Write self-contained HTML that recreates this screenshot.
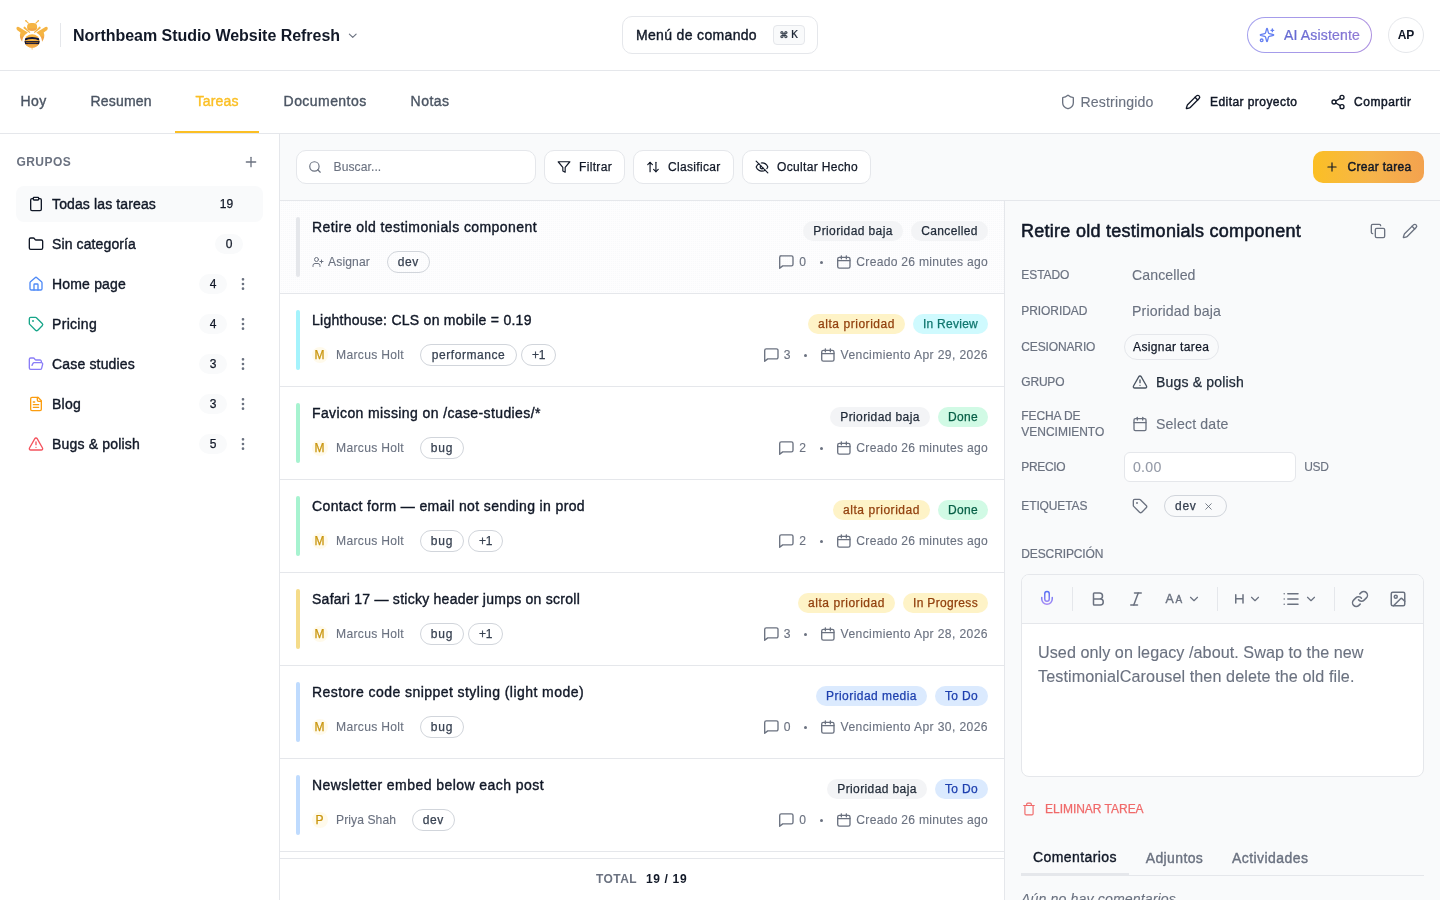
<!DOCTYPE html>
<html lang="es">
<head>
<meta charset="utf-8">
<title>Northbeam Studio Website Refresh</title>
<style>
*{box-sizing:border-box;margin:0;padding:0}
html,body{width:1440px;height:900px;overflow:hidden;background:#fff}
body{font-family:"Liberation Sans",sans-serif;position:relative;color:#111827}
.bx,.t,.ic,.lg{position:absolute;display:block}
.t{white-space:pre;font-weight:400;line-height:30px;height:30px}
.m{-webkit-text-stroke:.4px}
.b{font-weight:700}
.ic{fill:none;stroke:currentColor;stroke-linecap:round;stroke-linejoin:round;overflow:visible}
ul{list-style:none}
button,kbd{font:inherit;border:0;background:none;padding:0}
</style>
</head>
<body>
<header>
<div class="bx" style="left:0px;top:0px;width:1440px;height:70px;background:#fff"></div>
<div class="bx" style="left:0px;top:70px;width:1440px;height:1px;background:#e5e7eb"></div>
<svg class="lg" style="left:14px;top:18px" width="36" height="34" viewBox="14 18 36 34">
<defs><clipPath id="bc"><ellipse cx="32.100" cy="41" rx="7.600" ry="6.800"/></clipPath>
<linearGradient id="wg" x1="0" y1="27" x2="0" y2="41.500" gradientUnits="userSpaceOnUse"><stop offset=".6" stop-color="#f5b443"/><stop offset=".68" stop-color="#f1a548"/></linearGradient></defs>
<g id="bw">
<path d="M28.300 23.200 26 20.900" stroke="#f5b443" stroke-width="1.100" stroke-linecap="round"/>
<circle cx="25.800" cy="20.700" r=".75" fill="#f5b443"/>
<path d="M24.700 26.600 30.300 32.200 29.600 33.100 23.500 28.200Q23.300 26.900 24.700 26.600Z" fill="#f5b443"/>
<path d="M16.700 27.300Q17.500 26.400 18.800 27L27.900 32.600Q24.200 35 23.100 37.600 22.400 39.500 22.100 41.700 20.500 39.500 20.100 37.600 19.600 34.500 20.500 32.600L17 30Q16 28.500 16.700 27.300Z" fill="url(#wg)"/>
</g>
<use href="#bw" transform="translate(64.200 0) scale(-1 1)"/>
<g fill="#f5b443">
<rect x="27.100" y="22.900" width="10" height="7.900" rx="4" ry="3.500"/>
<ellipse cx="32.100" cy="41" rx="7.600" ry="6.800"/>
<path d="M31.200 48.500h1.800l-.9 1.300z"/>
</g>
<path d="M27.500 28.200Q32.100 28.800 36.700 28.200Q35.500 30.800 32.100 30.800Q28.700 30.800 27.500 28.200Z" fill="#f1a548"/>
<g clip-path="url(#bc)">
<path d="M24.700 39.500Q32.100 36.500 39.500 39.500" stroke="#10163a" stroke-width="1.900" fill="none"/>
<rect x="24" y="41.100" width="16.200" height="3.300" fill="#10163a"/>
<rect x="26" y="42.250" width="12.200" height=".7" fill="#c47a14"/>
<rect x="27.800" y="43.900" width="8.600" height=".6" fill="#f5a742"/>
<rect x="24" y="44.400" width="16.200" height="4" fill="#f3a945"/>
</g>
</svg>
<div class="bx" style="left:60px;top:23px;width:1px;height:24px;background:#e5e7eb"></div>
<h1 class="t b" style="left:73.00px;top:21px;font-size:16px;color:#111827;letter-spacing:-0.037px;">Northbeam Studio Website Refresh</h1>
<svg class="ic" style="left:346.25px;top:29.25px;color:#6b7280;" width="13.5" height="13.5" viewBox="0 0 24 24" stroke-width="2"><path d="m6 9 6 6 6-6"/></svg>
<button class="bx" style="left:622px;top:16px;width:196px;height:38px;border:1px solid #e5e7eb;border-radius:10px;background:#fff"></button>
<span class="t m" style="left:636.00px;top:20px;font-size:14px;color:#111827;letter-spacing:0.335px;-webkit-text-stroke:0.38px;">Menú de comando</span>
<kbd class="bx" style="left:773px;top:25px;width:32px;height:20px;border:1px solid #e5e7eb;border-radius:4px;background:#f9fafb"></kbd>
<span class="t" style="left:779.60px;top:20px;font-size:8.8px;color:#1f2937;font-family:'DejaVu Sans',sans-serif;-webkit-text-stroke:0.3px;">⌘</span>
<span class="t" style="left:791.30px;top:20px;font-size:11px;color:#1f2937;font-family:'DejaVu Sans Mono',monospace;-webkit-text-stroke:0.2px;">K</span>
<button class="bx" style="left:1247px;top:17px;width:125px;height:36px;border:1px solid transparent;border-radius:18px;background:linear-gradient(#fff,#fff) padding-box,linear-gradient(90deg,#a3a0ee,#ac90e0) border-box"></button>
<svg class="ic" style="left:1259px;top:27px;color:#6680f2;" width="16" height="16" viewBox="0 0 24 24" stroke-width="2"><path d="M9.937 15.500A2 2 0 0 0 8.500 14.063l-6.135-1.582a.500.500 0 0 1 0-.962L8.500 9.936A2 2 0 0 0 9.937 8.500l1.582-6.135a.500.500 0 0 1 .963 0L14.063 8.500A2 2 0 0 0 15.500 9.937l6.135 1.581a.500.500 0 0 1 0 .964L15.500 14.063a2 2 0 0 0-1.437 1.437l-1.582 6.135a.500.500 0 0 1-.963 0z"/><path d="M20 3v4"/><path d="M22 5h-4"/><circle cx="4" cy="20" r="2"/></svg>
<span class="t m" style="left:1284.00px;top:20px;font-size:14px;color:#6e6bd8;letter-spacing:0.172px;-webkit-text-stroke:0.38px;background:linear-gradient(90deg,#5f68d3,#9079d4);-webkit-background-clip:text;background-clip:text;color:transparent;-webkit-text-stroke:.15px #776fd3;">AI Asistente</span>
<div class="bx" style="left:1388px;top:17px;width:36px;height:36px;border:1px solid #e5e7eb;border-radius:50%;background:#fff"></div>
<span class="t b" style="left:1397.80px;top:20px;font-size:12px;color:#111827;letter-spacing:-0.336px;">AP</span>
</header>
<nav>
<div class="bx" style="left:0px;top:71px;width:1440px;height:62px;background:#fff"></div>
<div class="bx" style="left:0px;top:133px;width:1440px;height:1px;background:#e5e7eb"></div>
<a class="t m" style="left:20.60px;top:86px;font-size:14px;color:#4b5563;letter-spacing:0.365px;-webkit-text-stroke:0.38px;">Hoy</a>
<a class="t m" style="left:90.60px;top:86px;font-size:14px;color:#4b5563;letter-spacing:0.154px;-webkit-text-stroke:0.38px;">Resumen</a>
<a class="t m" style="left:195.60px;top:86px;font-size:14px;color:#fbbf24;letter-spacing:0.161px;-webkit-text-stroke:0.38px;">Tareas</a>
<a class="t m" style="left:283.60px;top:86px;font-size:14px;color:#4b5563;letter-spacing:0.441px;-webkit-text-stroke:0.38px;">Documentos</a>
<a class="t m" style="left:410.60px;top:86px;font-size:14px;color:#4b5563;letter-spacing:0.484px;-webkit-text-stroke:0.38px;">Notas</a>
<div class="bx" style="left:175px;top:131px;width:84px;height:2px;background:#fbbf24"></div>
<svg class="ic" style="left:1060px;top:94px;color:#6b7280;" width="16" height="16" viewBox="0 0 24 24" stroke-width="2"><path d="M20 13c0 5-3.500 7.500-7.660 8.950a1 1 0 0 1-.670-.010C7.500 20.500 4 18 4 13V6a1 1 0 0 1 1-1c2 0 4.500-1.200 6.240-2.720a1.170 1.170 0 0 1 1.520 0C14.510 3.810 17 5 19 5a1 1 0 0 1 1 1z"/></svg>
<span class="t" style="left:1080.50px;top:87px;font-size:14.14px;color:#6b7280;letter-spacing:0.141px;-webkit-text-stroke:0.12px;">Restringido</span>
<svg class="ic" style="left:1185px;top:94px;color:#111827;" width="16" height="16" viewBox="0 0 24 24" stroke-width="2"><path d="M21.174 6.812a1 1 0 0 0-3.986-3.987L3.842 16.174a2 2 0 0 0-.500.830l-1.321 4.352a.500.500 0 0 0 .623.622l4.353-1.320a2 2 0 0 0 .830-.497z"/><path d="m15 5 4 4"/></svg>
<span class="t m" style="left:1210.00px;top:87px;font-size:12px;color:#111827;letter-spacing:0.439px;-webkit-text-stroke:0.45px;">Editar proyecto</span>
<svg class="ic" style="left:1330px;top:94px;color:#111827;" width="16" height="16" viewBox="0 0 24 24" stroke-width="2"><circle cx="18" cy="5" r="3"/><circle cx="6" cy="12" r="3"/><circle cx="18" cy="19" r="3"/><line x1="8.59" x2="15.42" y1="13.51" y2="17.49"/><line x1="15.41" x2="8.59" y1="6.51" y2="10.49"/></svg>
<span class="t m" style="left:1354.00px;top:87px;font-size:12px;color:#111827;letter-spacing:0.535px;-webkit-text-stroke:0.45px;">Compartir</span>
</nav>
<aside>
<div class="bx" style="left:0px;top:134px;width:279px;height:766px;background:#fff"></div>
<div class="bx" style="left:279px;top:134px;width:1px;height:766px;background:#e5e7eb"></div>
<h2 class="t b" style="left:16.40px;top:147px;font-size:12px;color:#6b7280;letter-spacing:0.464px;">GRUPOS</h2>
<svg class="ic" style="left:243px;top:154px;color:#6b7280;" width="16" height="16" viewBox="0 0 24 24" stroke-width="2"><path d="M5 12h14"/><path d="M12 5v14"/></svg>
<div class="bx" style="left:16px;top:186px;width:247px;height:36px;background:#f9fafb;border-radius:8px"></div>
<ul>
<li>
<svg class="ic" style="left:28px;top:196px;color:#111827;" width="16" height="16" viewBox="0 0 24 24" stroke-width="2"><rect width="8" height="4" x="8" y="2" rx="1" ry="1"/><path d="M16 4h2a2 2 0 0 1 2 2v14a2 2 0 0 1-2 2H6a2 2 0 0 1-2-2V6a2 2 0 0 1 2-2h2"/></svg>
<span class="t m" style="left:52.00px;top:189px;font-size:14px;color:#111827;letter-spacing:0.128px;-webkit-text-stroke:0.38px;">Todas las tareas</span>
<div class="bx" style="left:210px;top:194px;width:33px;height:20px;background:#f9fafb;border-radius:10px"></div>
<span class="t m" style="left:219.82px;top:189px;font-size:12px;color:#111827;-webkit-text-stroke:0.25px;">19</span>
</li>
<li>
<svg class="ic" style="left:28px;top:236px;color:#111827;" width="16" height="16" viewBox="0 0 24 24" stroke-width="2"><path d="M20 20a2 2 0 0 0 2-2V8a2 2 0 0 0-2-2h-7.900a2 2 0 0 1-1.690-.900L9.600 3.900A2 2 0 0 0 7.930 3H4a2 2 0 0 0-2 2v13a2 2 0 0 0 2 2Z"/></svg>
<span class="t m" style="left:52.00px;top:229px;font-size:14px;color:#111827;letter-spacing:0.115px;-webkit-text-stroke:0.38px;">Sin categoría</span>
<div class="bx" style="left:215px;top:234px;width:28px;height:20px;background:#f9fafb;border-radius:10px"></div>
<span class="t m" style="left:225.66px;top:229px;font-size:12px;color:#111827;-webkit-text-stroke:0.25px;">0</span>
</li>
<li>
<svg class="ic" style="left:28px;top:276px;color:#4f8af7;" width="16" height="16" viewBox="0 0 24 24" stroke-width="2"><path d="M15 21v-8a1 1 0 0 0-1-1h-4a1 1 0 0 0-1 1v8"/><path d="M3 10a2 2 0 0 1 .709-1.528l7-5.999a2 2 0 0 1 2.582 0l7 5.999A2 2 0 0 1 21 10v9a2 2 0 0 1-2 2H5a2 2 0 0 1-2-2z"/></svg>
<span class="t m" style="left:52.00px;top:269px;font-size:14px;color:#111827;letter-spacing:0.179px;-webkit-text-stroke:0.38px;">Home page</span>
<div class="bx" style="left:199px;top:274px;width:28px;height:20px;background:#f9fafb;border-radius:10px"></div>
<span class="t m" style="left:209.66px;top:269px;font-size:12px;color:#111827;-webkit-text-stroke:0.25px;">4</span>
<svg class="ic" style="left:235px;top:276px;color:#6b7280;" width="16" height="16" viewBox="0 0 24 24" stroke-width="2"><circle cx="12" cy="12" r="1"/><circle cx="12" cy="5" r="1"/><circle cx="12" cy="19" r="1"/></svg>
</li>
<li>
<svg class="ic" style="left:28px;top:316px;color:#17a589;" width="16" height="16" viewBox="0 0 24 24" stroke-width="2"><path d="M12.586 2.586A2 2 0 0 0 11.172 2H4a2 2 0 0 0-2 2v7.172a2 2 0 0 0 .586 1.414l8.704 8.704a2.426 2.426 0 0 0 3.420 0l6.580-6.580a2.426 2.426 0 0 0 0-3.420z"/><circle cx="7.5" cy="7.5" r=".5" fill="currentColor"/></svg>
<span class="t m" style="left:52.00px;top:309px;font-size:14px;color:#111827;letter-spacing:0.315px;-webkit-text-stroke:0.38px;">Pricing</span>
<div class="bx" style="left:199px;top:314px;width:28px;height:20px;background:#f9fafb;border-radius:10px"></div>
<span class="t m" style="left:209.66px;top:309px;font-size:12px;color:#111827;-webkit-text-stroke:0.25px;">4</span>
<svg class="ic" style="left:235px;top:316px;color:#6b7280;" width="16" height="16" viewBox="0 0 24 24" stroke-width="2"><circle cx="12" cy="12" r="1"/><circle cx="12" cy="5" r="1"/><circle cx="12" cy="19" r="1"/></svg>
</li>
<li>
<svg class="ic" style="left:28px;top:356px;color:#8a7df7;" width="16" height="16" viewBox="0 0 24 24" stroke-width="2"><path d="m6 14 1.500-2.900A2 2 0 0 1 9.240 10H20a2 2 0 0 1 1.940 2.500l-1.540 6a2 2 0 0 1-1.950 1.500H4a2 2 0 0 1-2-2V5a2 2 0 0 1 2-2h3.900a2 2 0 0 1 1.690.900l.810 1.200a2 2 0 0 0 1.670.900H18a2 2 0 0 1 2 2v2"/></svg>
<span class="t m" style="left:52.00px;top:349px;font-size:14px;color:#111827;letter-spacing:0.172px;-webkit-text-stroke:0.38px;">Case studies</span>
<div class="bx" style="left:199px;top:354px;width:28px;height:20px;background:#f9fafb;border-radius:10px"></div>
<span class="t m" style="left:209.66px;top:349px;font-size:12px;color:#111827;-webkit-text-stroke:0.25px;">3</span>
<svg class="ic" style="left:235px;top:356px;color:#6b7280;" width="16" height="16" viewBox="0 0 24 24" stroke-width="2"><circle cx="12" cy="12" r="1"/><circle cx="12" cy="5" r="1"/><circle cx="12" cy="19" r="1"/></svg>
</li>
<li>
<svg class="ic" style="left:28px;top:396px;color:#fb9d10;" width="16" height="16" viewBox="0 0 24 24" stroke-width="2"><path d="M15 2H6a2 2 0 0 0-2 2v16a2 2 0 0 0 2 2h12a2 2 0 0 0 2-2V7Z"/><path d="M14 2v4a2 2 0 0 0 2 2h4"/><path d="M10 9H8"/><path d="M16 13H8"/><path d="M16 17H8"/></svg>
<span class="t m" style="left:52.00px;top:389px;font-size:14px;color:#111827;letter-spacing:0.242px;-webkit-text-stroke:0.38px;">Blog</span>
<div class="bx" style="left:199px;top:394px;width:28px;height:20px;background:#f9fafb;border-radius:10px"></div>
<span class="t m" style="left:209.66px;top:389px;font-size:12px;color:#111827;-webkit-text-stroke:0.25px;">3</span>
<svg class="ic" style="left:235px;top:396px;color:#6b7280;" width="16" height="16" viewBox="0 0 24 24" stroke-width="2"><circle cx="12" cy="12" r="1"/><circle cx="12" cy="5" r="1"/><circle cx="12" cy="19" r="1"/></svg>
</li>
<li>
<svg class="ic" style="left:28px;top:436px;color:#f4535e;" width="16" height="16" viewBox="0 0 24 24" stroke-width="2"><path d="m21.730 18-8-14a2 2 0 0 0-3.480 0l-8 14A2 2 0 0 0 4 21h16a2 2 0 0 0 1.730-3"/><path d="M12 9v4"/><path d="M12 17h.01"/></svg>
<span class="t m" style="left:52.00px;top:429px;font-size:14px;color:#111827;letter-spacing:0.184px;-webkit-text-stroke:0.38px;">Bugs &amp; polish</span>
<div class="bx" style="left:199px;top:434px;width:28px;height:20px;background:#f9fafb;border-radius:10px"></div>
<span class="t m" style="left:209.66px;top:429px;font-size:12px;color:#111827;-webkit-text-stroke:0.25px;">5</span>
<svg class="ic" style="left:235px;top:436px;color:#6b7280;" width="16" height="16" viewBox="0 0 24 24" stroke-width="2"><circle cx="12" cy="12" r="1"/><circle cx="12" cy="5" r="1"/><circle cx="12" cy="19" r="1"/></svg>
</li>
</ul>
</aside>
<main>
<div class="bx" style="left:280px;top:134px;width:1160px;height:766px;background:#f9fafb"></div>
<div class="bx" style="left:296px;top:150px;width:240px;height:34px;border:1px solid #e5e7eb;border-radius:10px;background:#fff"></div>
<svg class="ic" style="left:308px;top:160px;color:#6b7280;" width="14" height="14" viewBox="0 0 24 24" stroke-width="2"><circle cx="11" cy="11" r="8"/><path d="m21 21-4.3-4.3"/></svg>
<span class="t" style="left:333.50px;top:152px;font-size:12.12px;color:#6b7280;letter-spacing:0.075px;-webkit-text-stroke:0.12px;">Buscar...</span>
<button class="bx" style="left:544px;top:150px;width:81px;height:34px;border:1px solid #e5e7eb;border-radius:10px;background:#fff"></button>
<svg class="ic" style="left:557px;top:160px;color:#111827;" width="14" height="14" viewBox="0 0 24 24" stroke-width="2"><polygon points="22 3 2 3 10 12.46 10 19 14 21 14 12.46 22 3"/></svg>
<span class="t m" style="left:579.00px;top:152px;font-size:12px;color:#111827;letter-spacing:0.333px;-webkit-text-stroke:0.25px;">Filtrar</span>
<button class="bx" style="left:633px;top:150px;width:101px;height:34px;border:1px solid #e5e7eb;border-radius:10px;background:#fff"></button>
<svg class="ic" style="left:646px;top:160px;color:#111827;" width="14" height="14" viewBox="0 0 24 24" stroke-width="2"><path d="m21 16-4 4-4-4"/><path d="M17 20V4"/><path d="m3 8 4-4 4 4"/><path d="M7 4v16"/></svg>
<span class="t m" style="left:668.00px;top:152px;font-size:12px;color:#111827;letter-spacing:0.316px;-webkit-text-stroke:0.25px;">Clasificar</span>
<button class="bx" style="left:742px;top:150px;width:129px;height:34px;border:1px solid #e5e7eb;border-radius:10px;background:#fff"></button>
<svg class="ic" style="left:755px;top:160px;color:#111827;" width="14" height="14" viewBox="0 0 24 24" stroke-width="2"><path d="M9.88 9.88a3 3 0 1 0 4.24 4.24"/><path d="M10.73 5.08A10.43 10.43 0 0 1 12 5c7 0 10 7 10 7a13.16 13.16 0 0 1-1.67 2.68"/><path d="M6.61 6.61A13.526 13.526 0 0 0 2 12s3 7 10 7a9.74 9.74 0 0 0 5.39-1.61"/><line x1="2" x2="22" y1="2" y2="22"/></svg>
<span class="t m" style="left:777.00px;top:152px;font-size:12px;color:#111827;letter-spacing:0.331px;-webkit-text-stroke:0.25px;">Ocultar Hecho</span>
<button class="bx" style="left:1313px;top:151px;width:111px;height:32px;border-radius:10px;background:linear-gradient(90deg,#fbbf24,#f6b54a 50%,#f3a24f)"></button>
<svg class="ic" style="left:1325px;top:160px;color:#111827;" width="14" height="14" viewBox="0 0 24 24" stroke-width="2"><path d="M5 12h14"/><path d="M12 5v14"/></svg>
<span class="t m" style="left:1347.50px;top:152px;font-size:12px;color:#111827;letter-spacing:0.300px;-webkit-text-stroke:0.45px;">Crear tarea</span>
<div class="bx" style="left:280px;top:200px;width:724px;height:1px;background:#e5e7eb"></div>
<div class="bx" style="left:280px;top:201px;width:724px;height:699px;background:#fff"></div>
<div class="bx" style="left:1004px;top:200px;width:1px;height:700px;background:#e5e7eb"></div>
<div class="bx" style="left:280px;top:201px;width:724px;height:92px;background:#fdfdfe radial-gradient(circle at .5px .5px,#f8f9fb .6px,rgba(248,249,251,0) .7px) 1px 0/2px 2px"></div>
<ul>
<li>
<div class="bx" style="left:280px;top:293px;width:724px;height:1px;background:#e5e7eb"></div>
<div class="bx" style="left:296px;top:217px;width:4px;height:60px;background:#e5e7eb;border-radius:2px"></div>
<h3 class="t m" style="left:312.00px;top:212px;font-size:14px;color:#111827;letter-spacing:0.428px;-webkit-text-stroke:0.38px;">Retire old testimonials component</h3>
<svg class="ic" style="left:312px;top:256px;color:#6b7280;" width="12" height="12" viewBox="0 0 24 24" stroke-width="2"><path d="M16 21v-2a4 4 0 0 0-4-4H6a4 4 0 0 0-4 4v2"/><circle cx="9" cy="7" r="4"/><line x1="19" x2="19" y1="8" y2="14"/><line x1="22" x2="16" y1="11" y2="11"/></svg>
<span class="t" style="left:328.00px;top:247px;font-size:12.12px;color:#6b7280;letter-spacing:0.134px;-webkit-text-stroke:0.12px;">Asignar</span>
<div class="bx" style="left:387px;top:251px;width:42.6px;height:22px;border:1px solid #d1d5db;border-radius:11px"></div>
<span class="t m" style="left:397.80px;top:247px;font-size:12px;color:#374151;letter-spacing:0.547px;-webkit-text-stroke:0.25px;">dev</span>
<div class="bx" style="left:911px;top:221px;width:77px;height:20px;background:#f3f4f6;border-radius:10px"></div>
<span class="t m" style="left:921.25px;top:216px;font-size:12px;color:#1f2937;letter-spacing:0.347px;-webkit-text-stroke:0.25px;">Cancelled</span>
<div class="bx" style="left:803px;top:221px;width:100px;height:20px;background:#f3f4f6;border-radius:10px"></div>
<span class="t m" style="left:813.25px;top:216px;font-size:12px;color:#1f2937;letter-spacing:0.390px;-webkit-text-stroke:0.25px;">Prioridad baja</span>
<span class="t" style="left:856.30px;top:247px;font-size:12.12px;color:#6b7280;letter-spacing:0.277px;-webkit-text-stroke:0.12px;">Creado 26 minutes ago</span>
<svg class="ic" style="left:835.9px;top:253.15px;color:#6b7280;" width="18" height="18" viewBox="835.9 253.15 18 18" stroke-width="1.35"><rect x="837.60" y="257.45" width="12.30" height="10.80" rx="1.7"/><path d="M837.60 260.75H849.90M841.25 255.95v3M846.25 255.95v3"/></svg>
<div class="bx" style="left:819.5px;top:260.7px;width:3px;height:3px;background:#6b7280;border-radius:50%"></div>
<span class="t" style="left:799.33px;top:247px;font-size:12.12px;color:#6b7280;-webkit-text-stroke:0.12px;">0</span>
<svg class="ic" style="left:778.3px;top:253.15px;color:#6b7280;" width="18" height="18" viewBox="778.3 253.15 18 18" stroke-width="1.35"><path d="M781.60 255.95H791.70a1.6 1.6 0 0 1 1.6 1.6V264.45a1.6 1.6 0 0 1 -1.6 1.6H783.00L780.00 268.45V257.55a1.6 1.6 0 0 1 1.6 -1.6Z"/></svg>
</li>
<li>
<div class="bx" style="left:280px;top:386px;width:724px;height:1px;background:#e5e7eb"></div>
<div class="bx" style="left:296px;top:310px;width:4px;height:60px;background:#a5f3fc;border-radius:2px"></div>
<h3 class="t m" style="left:312.00px;top:305px;font-size:14px;color:#111827;letter-spacing:0.262px;-webkit-text-stroke:0.38px;">Lighthouse: CLS on mobile = 0.19</h3>
<div class="bx" style="left:312px;top:347px;width:16px;height:16px;background:#fffaeb;border-radius:50%"></div>
<span class="t m" style="left:314.60px;top:340px;font-size:12px;color:#c9950c;-webkit-text-stroke:0.25px;">M</span>
<span class="t" style="left:336.00px;top:340px;font-size:12.12px;color:#6b7280;letter-spacing:0.308px;-webkit-text-stroke:0.12px;">Marcus Holt</span>
<div class="bx" style="left:420px;top:344px;width:97px;height:22px;border:1px solid #d1d5db;border-radius:11px"></div>
<span class="t m" style="left:431.75px;top:340px;font-size:12px;color:#374151;letter-spacing:0.557px;-webkit-text-stroke:0.25px;">performance</span>
<div class="bx" style="left:521px;top:344px;width:35px;height:22px;border:1px solid #d1d5db;border-radius:11px"></div>
<span class="t m" style="left:531.90px;top:340px;font-size:12px;color:#374151;letter-spacing:-0.244px;-webkit-text-stroke:0.25px;">+1</span>
<div class="bx" style="left:913px;top:314px;width:75px;height:20px;background:#cffafe;border-radius:10px"></div>
<span class="t m" style="left:923.00px;top:309px;font-size:12px;color:#0f766e;letter-spacing:0.257px;-webkit-text-stroke:0.25px;">In Review</span>
<div class="bx" style="left:808px;top:314px;width:97px;height:20px;background:#fef3c7;border-radius:10px"></div>
<span class="t m" style="left:818.00px;top:309px;font-size:12px;color:#92400e;letter-spacing:0.545px;-webkit-text-stroke:0.25px;">alta prioridad</span>
<span class="t" style="left:840.60px;top:340px;font-size:12.12px;color:#6b7280;letter-spacing:0.391px;-webkit-text-stroke:0.12px;">Vencimiento Apr 29, 2026</span>
<svg class="ic" style="left:820.2px;top:346.15px;color:#6b7280;" width="18" height="18" viewBox="820.2 346.15 18 18" stroke-width="1.35"><rect x="821.90" y="350.45" width="12.30" height="10.80" rx="1.7"/><path d="M821.90 353.75H834.20M825.55 348.95v3M830.55 348.95v3"/></svg>
<div class="bx" style="left:803.8px;top:353.7px;width:3px;height:3px;background:#6b7280;border-radius:50%"></div>
<span class="t" style="left:783.63px;top:340px;font-size:12.12px;color:#6b7280;-webkit-text-stroke:0.12px;">3</span>
<svg class="ic" style="left:762.6px;top:346.15px;color:#6b7280;" width="18" height="18" viewBox="762.6 346.15 18 18" stroke-width="1.35"><path d="M765.90 348.95H776.00a1.6 1.6 0 0 1 1.6 1.6V357.45a1.6 1.6 0 0 1 -1.6 1.6H767.30L764.30 361.45V350.55a1.6 1.6 0 0 1 1.6 -1.6Z"/></svg>
</li>
<li>
<div class="bx" style="left:280px;top:479px;width:724px;height:1px;background:#e5e7eb"></div>
<div class="bx" style="left:296px;top:403px;width:4px;height:60px;background:#a7f3d0;border-radius:2px"></div>
<h3 class="t m" style="left:312.00px;top:398px;font-size:14px;color:#111827;letter-spacing:0.390px;-webkit-text-stroke:0.38px;">Favicon missing on /case-studies/*</h3>
<div class="bx" style="left:312px;top:440px;width:16px;height:16px;background:#fffaeb;border-radius:50%"></div>
<span class="t m" style="left:314.60px;top:433px;font-size:12px;color:#c9950c;-webkit-text-stroke:0.25px;">M</span>
<span class="t" style="left:336.00px;top:433px;font-size:12.12px;color:#6b7280;letter-spacing:0.308px;-webkit-text-stroke:0.12px;">Marcus Holt</span>
<div class="bx" style="left:420px;top:437px;width:44px;height:22px;border:1px solid #d1d5db;border-radius:11px"></div>
<span class="t m" style="left:430.85px;top:433px;font-size:12px;color:#374151;letter-spacing:0.756px;-webkit-text-stroke:0.25px;">bug</span>
<div class="bx" style="left:938px;top:407px;width:50px;height:20px;background:#d1fae5;border-radius:10px"></div>
<span class="t m" style="left:948.00px;top:402px;font-size:12px;color:#065f46;letter-spacing:0.328px;-webkit-text-stroke:0.25px;">Done</span>
<div class="bx" style="left:830px;top:407px;width:100px;height:20px;background:#f3f4f6;border-radius:10px"></div>
<span class="t m" style="left:840.25px;top:402px;font-size:12px;color:#1f2937;letter-spacing:0.390px;-webkit-text-stroke:0.25px;">Prioridad baja</span>
<span class="t" style="left:856.30px;top:433px;font-size:12.12px;color:#6b7280;letter-spacing:0.277px;-webkit-text-stroke:0.12px;">Creado 26 minutes ago</span>
<svg class="ic" style="left:835.9px;top:439.15px;color:#6b7280;" width="18" height="18" viewBox="835.9 439.15 18 18" stroke-width="1.35"><rect x="837.60" y="443.45" width="12.30" height="10.80" rx="1.7"/><path d="M837.60 446.75H849.90M841.25 441.95v3M846.25 441.95v3"/></svg>
<div class="bx" style="left:819.5px;top:446.7px;width:3px;height:3px;background:#6b7280;border-radius:50%"></div>
<span class="t" style="left:799.33px;top:433px;font-size:12.12px;color:#6b7280;-webkit-text-stroke:0.12px;">2</span>
<svg class="ic" style="left:778.3px;top:439.15px;color:#6b7280;" width="18" height="18" viewBox="778.3 439.15 18 18" stroke-width="1.35"><path d="M781.60 441.95H791.70a1.6 1.6 0 0 1 1.6 1.6V450.45a1.6 1.6 0 0 1 -1.6 1.6H783.00L780.00 454.45V443.55a1.6 1.6 0 0 1 1.6 -1.6Z"/></svg>
</li>
<li>
<div class="bx" style="left:280px;top:572px;width:724px;height:1px;background:#e5e7eb"></div>
<div class="bx" style="left:296px;top:496px;width:4px;height:60px;background:#a7f3d0;border-radius:2px"></div>
<h3 class="t m" style="left:312.00px;top:491px;font-size:14px;color:#111827;letter-spacing:0.366px;-webkit-text-stroke:0.38px;">Contact form — email not sending in prod</h3>
<div class="bx" style="left:312px;top:533px;width:16px;height:16px;background:#fffaeb;border-radius:50%"></div>
<span class="t m" style="left:314.60px;top:526px;font-size:12px;color:#c9950c;-webkit-text-stroke:0.25px;">M</span>
<span class="t" style="left:336.00px;top:526px;font-size:12.12px;color:#6b7280;letter-spacing:0.308px;-webkit-text-stroke:0.12px;">Marcus Holt</span>
<div class="bx" style="left:420px;top:530px;width:44px;height:22px;border:1px solid #d1d5db;border-radius:11px"></div>
<span class="t m" style="left:430.85px;top:526px;font-size:12px;color:#374151;letter-spacing:0.756px;-webkit-text-stroke:0.25px;">bug</span>
<div class="bx" style="left:468px;top:530px;width:35px;height:22px;border:1px solid #d1d5db;border-radius:11px"></div>
<span class="t m" style="left:478.90px;top:526px;font-size:12px;color:#374151;letter-spacing:-0.244px;-webkit-text-stroke:0.25px;">+1</span>
<div class="bx" style="left:938px;top:500px;width:50px;height:20px;background:#d1fae5;border-radius:10px"></div>
<span class="t m" style="left:948.00px;top:495px;font-size:12px;color:#065f46;letter-spacing:0.328px;-webkit-text-stroke:0.25px;">Done</span>
<div class="bx" style="left:833px;top:500px;width:97px;height:20px;background:#fef3c7;border-radius:10px"></div>
<span class="t m" style="left:843.00px;top:495px;font-size:12px;color:#92400e;letter-spacing:0.545px;-webkit-text-stroke:0.25px;">alta prioridad</span>
<span class="t" style="left:856.30px;top:526px;font-size:12.12px;color:#6b7280;letter-spacing:0.277px;-webkit-text-stroke:0.12px;">Creado 26 minutes ago</span>
<svg class="ic" style="left:835.9px;top:532.15px;color:#6b7280;" width="18" height="18" viewBox="835.9 532.15 18 18" stroke-width="1.35"><rect x="837.60" y="536.45" width="12.30" height="10.80" rx="1.7"/><path d="M837.60 539.75H849.90M841.25 534.95v3M846.25 534.95v3"/></svg>
<div class="bx" style="left:819.5px;top:539.7px;width:3px;height:3px;background:#6b7280;border-radius:50%"></div>
<span class="t" style="left:799.33px;top:526px;font-size:12.12px;color:#6b7280;-webkit-text-stroke:0.12px;">2</span>
<svg class="ic" style="left:778.3px;top:532.15px;color:#6b7280;" width="18" height="18" viewBox="778.3 532.15 18 18" stroke-width="1.35"><path d="M781.60 534.95H791.70a1.6 1.6 0 0 1 1.6 1.6V543.45a1.6 1.6 0 0 1 -1.6 1.6H783.00L780.00 547.45V536.55a1.6 1.6 0 0 1 1.6 -1.6Z"/></svg>
</li>
<li>
<div class="bx" style="left:280px;top:665px;width:724px;height:1px;background:#e5e7eb"></div>
<div class="bx" style="left:296px;top:589px;width:4px;height:60px;background:#f5dc8a;border-radius:2px"></div>
<h3 class="t m" style="left:312.00px;top:584px;font-size:14px;color:#111827;letter-spacing:0.255px;-webkit-text-stroke:0.38px;">Safari 17 — sticky header jumps on scroll</h3>
<div class="bx" style="left:312px;top:626px;width:16px;height:16px;background:#fffaeb;border-radius:50%"></div>
<span class="t m" style="left:314.60px;top:619px;font-size:12px;color:#c9950c;-webkit-text-stroke:0.25px;">M</span>
<span class="t" style="left:336.00px;top:619px;font-size:12.12px;color:#6b7280;letter-spacing:0.308px;-webkit-text-stroke:0.12px;">Marcus Holt</span>
<div class="bx" style="left:420px;top:623px;width:44px;height:22px;border:1px solid #d1d5db;border-radius:11px"></div>
<span class="t m" style="left:430.85px;top:619px;font-size:12px;color:#374151;letter-spacing:0.756px;-webkit-text-stroke:0.25px;">bug</span>
<div class="bx" style="left:468px;top:623px;width:35px;height:22px;border:1px solid #d1d5db;border-radius:11px"></div>
<span class="t m" style="left:478.90px;top:619px;font-size:12px;color:#374151;letter-spacing:-0.244px;-webkit-text-stroke:0.25px;">+1</span>
<div class="bx" style="left:903px;top:593px;width:85px;height:20px;background:#fef3c7;border-radius:10px"></div>
<span class="t m" style="left:913.00px;top:588px;font-size:12px;color:#92400e;letter-spacing:0.331px;-webkit-text-stroke:0.25px;">In Progress</span>
<div class="bx" style="left:798px;top:593px;width:97px;height:20px;background:#fef3c7;border-radius:10px"></div>
<span class="t m" style="left:808.00px;top:588px;font-size:12px;color:#92400e;letter-spacing:0.545px;-webkit-text-stroke:0.25px;">alta prioridad</span>
<span class="t" style="left:840.60px;top:619px;font-size:12.12px;color:#6b7280;letter-spacing:0.391px;-webkit-text-stroke:0.12px;">Vencimiento Apr 28, 2026</span>
<svg class="ic" style="left:820.2px;top:625.15px;color:#6b7280;" width="18" height="18" viewBox="820.2 625.15 18 18" stroke-width="1.35"><rect x="821.90" y="629.45" width="12.30" height="10.80" rx="1.7"/><path d="M821.90 632.75H834.20M825.55 627.95v3M830.55 627.95v3"/></svg>
<div class="bx" style="left:803.8px;top:632.7px;width:3px;height:3px;background:#6b7280;border-radius:50%"></div>
<span class="t" style="left:783.63px;top:619px;font-size:12.12px;color:#6b7280;-webkit-text-stroke:0.12px;">3</span>
<svg class="ic" style="left:762.6px;top:625.15px;color:#6b7280;" width="18" height="18" viewBox="762.6 625.15 18 18" stroke-width="1.35"><path d="M765.90 627.95H776.00a1.6 1.6 0 0 1 1.6 1.6V636.45a1.6 1.6 0 0 1 -1.6 1.6H767.30L764.30 640.45V629.55a1.6 1.6 0 0 1 1.6 -1.6Z"/></svg>
</li>
<li>
<div class="bx" style="left:280px;top:758px;width:724px;height:1px;background:#e5e7eb"></div>
<div class="bx" style="left:296px;top:682px;width:4px;height:60px;background:#bfdbfe;border-radius:2px"></div>
<h3 class="t m" style="left:312.00px;top:677px;font-size:14px;color:#111827;letter-spacing:0.447px;-webkit-text-stroke:0.38px;">Restore code snippet styling (light mode)</h3>
<div class="bx" style="left:312px;top:719px;width:16px;height:16px;background:#fffaeb;border-radius:50%"></div>
<span class="t m" style="left:314.60px;top:712px;font-size:12px;color:#c9950c;-webkit-text-stroke:0.25px;">M</span>
<span class="t" style="left:336.00px;top:712px;font-size:12.12px;color:#6b7280;letter-spacing:0.308px;-webkit-text-stroke:0.12px;">Marcus Holt</span>
<div class="bx" style="left:420px;top:716px;width:44px;height:22px;border:1px solid #d1d5db;border-radius:11px"></div>
<span class="t m" style="left:430.85px;top:712px;font-size:12px;color:#374151;letter-spacing:0.756px;-webkit-text-stroke:0.25px;">bug</span>
<div class="bx" style="left:935px;top:686px;width:53px;height:20px;background:#dbeafe;border-radius:10px"></div>
<span class="t m" style="left:945.00px;top:681px;font-size:12px;color:#1e40af;letter-spacing:0.328px;-webkit-text-stroke:0.25px;">To Do</span>
<div class="bx" style="left:816px;top:686px;width:111px;height:20px;background:#dbeafe;border-radius:10px"></div>
<span class="t m" style="left:826.00px;top:681px;font-size:12px;color:#1e40af;letter-spacing:0.464px;-webkit-text-stroke:0.25px;">Prioridad media</span>
<span class="t" style="left:840.60px;top:712px;font-size:12.12px;color:#6b7280;letter-spacing:0.391px;-webkit-text-stroke:0.12px;">Vencimiento Apr 30, 2026</span>
<svg class="ic" style="left:820.2px;top:718.15px;color:#6b7280;" width="18" height="18" viewBox="820.2 718.15 18 18" stroke-width="1.35"><rect x="821.90" y="722.45" width="12.30" height="10.80" rx="1.7"/><path d="M821.90 725.75H834.20M825.55 720.95v3M830.55 720.95v3"/></svg>
<div class="bx" style="left:803.8px;top:725.7px;width:3px;height:3px;background:#6b7280;border-radius:50%"></div>
<span class="t" style="left:783.63px;top:712px;font-size:12.12px;color:#6b7280;-webkit-text-stroke:0.12px;">0</span>
<svg class="ic" style="left:762.6px;top:718.15px;color:#6b7280;" width="18" height="18" viewBox="762.6 718.15 18 18" stroke-width="1.35"><path d="M765.90 720.95H776.00a1.6 1.6 0 0 1 1.6 1.6V729.45a1.6 1.6 0 0 1 -1.6 1.6H767.30L764.30 733.45V722.55a1.6 1.6 0 0 1 1.6 -1.6Z"/></svg>
</li>
<li>
<div class="bx" style="left:280px;top:851px;width:724px;height:1px;background:#e5e7eb"></div>
<div class="bx" style="left:296px;top:775px;width:4px;height:60px;background:#bfdbfe;border-radius:2px"></div>
<h3 class="t m" style="left:312.00px;top:770px;font-size:14px;color:#111827;letter-spacing:0.440px;-webkit-text-stroke:0.38px;">Newsletter embed below each post</h3>
<div class="bx" style="left:312px;top:812px;width:16px;height:16px;background:#fffaeb;border-radius:50%"></div>
<span class="t m" style="left:315.59px;top:805px;font-size:12px;color:#c9950c;-webkit-text-stroke:0.25px;">P</span>
<span class="t" style="left:336.00px;top:805px;font-size:12.12px;color:#6b7280;letter-spacing:0.077px;-webkit-text-stroke:0.12px;">Priya Shah</span>
<div class="bx" style="left:412px;top:809px;width:42.6px;height:22px;border:1px solid #d1d5db;border-radius:11px"></div>
<span class="t m" style="left:422.80px;top:805px;font-size:12px;color:#374151;letter-spacing:0.547px;-webkit-text-stroke:0.25px;">dev</span>
<div class="bx" style="left:935px;top:779px;width:53px;height:20px;background:#dbeafe;border-radius:10px"></div>
<span class="t m" style="left:945.00px;top:774px;font-size:12px;color:#1e40af;letter-spacing:0.328px;-webkit-text-stroke:0.25px;">To Do</span>
<div class="bx" style="left:827px;top:779px;width:100px;height:20px;background:#f3f4f6;border-radius:10px"></div>
<span class="t m" style="left:837.25px;top:774px;font-size:12px;color:#1f2937;letter-spacing:0.390px;-webkit-text-stroke:0.25px;">Prioridad baja</span>
<span class="t" style="left:856.30px;top:805px;font-size:12.12px;color:#6b7280;letter-spacing:0.277px;-webkit-text-stroke:0.12px;">Creado 26 minutes ago</span>
<svg class="ic" style="left:835.9px;top:811.15px;color:#6b7280;" width="18" height="18" viewBox="835.9 811.15 18 18" stroke-width="1.35"><rect x="837.60" y="815.45" width="12.30" height="10.80" rx="1.7"/><path d="M837.60 818.75H849.90M841.25 813.95v3M846.25 813.95v3"/></svg>
<div class="bx" style="left:819.5px;top:818.7px;width:3px;height:3px;background:#6b7280;border-radius:50%"></div>
<span class="t" style="left:799.33px;top:805px;font-size:12.12px;color:#6b7280;-webkit-text-stroke:0.12px;">0</span>
<svg class="ic" style="left:778.3px;top:811.15px;color:#6b7280;" width="18" height="18" viewBox="778.3 811.15 18 18" stroke-width="1.35"><path d="M781.60 813.95H791.70a1.6 1.6 0 0 1 1.6 1.6V822.45a1.6 1.6 0 0 1 -1.6 1.6H783.00L780.00 826.45V815.55a1.6 1.6 0 0 1 1.6 -1.6Z"/></svg>
</li>
</ul>
<div class="bx" style="left:280px;top:858px;width:724px;height:42px;background:#fff"></div>
<div class="bx" style="left:280px;top:858px;width:724px;height:1px;background:#e5e7eb"></div>
<span class="t b" style="left:596.00px;top:864px;font-size:12px;color:#6b7280;letter-spacing:0.422px;">TOTAL</span>
<span class="t b" style="left:646.00px;top:864px;font-size:12px;color:#111827;letter-spacing:0.642px;">19 / 19</span>
<section>
<div class="bx" style="left:1005px;top:200px;width:435px;height:1px;background:#e5e7eb"></div>
<div class="bx" style="left:1005px;top:201px;width:435px;height:699px;background:#f9fafb"></div>
<h2 class="t m" style="left:1021.00px;top:216px;font-size:18px;color:#111827;letter-spacing:0.268px;-webkit-text-stroke:0.55px;">Retire old testimonials component</h2>
<svg class="ic" style="left:1370px;top:223px;color:#6b7280;" width="16" height="16" viewBox="0 0 24 24" stroke-width="2"><rect width="14" height="14" x="8" y="8" rx="2" ry="2"/><path d="M4 16c-1.100 0-2-.900-2-2V4c0-1.100.900-2 2-2h10c1.100 0 2 .900 2 2"/></svg>
<svg class="ic" style="left:1402px;top:223px;color:#6b7280;" width="16" height="16" viewBox="0 0 24 24" stroke-width="2"><path d="M21.174 6.812a1 1 0 0 0-3.986-3.987L3.842 16.174a2 2 0 0 0-.500.830l-1.321 4.352a.500.500 0 0 0 .623.622l4.353-1.320a2 2 0 0 0 .830-.497z"/><path d="m15 5 4 4"/></svg>
<span class="t m" style="left:1021.30px;top:260px;font-size:12px;color:#6b7280;letter-spacing:-0.076px;-webkit-text-stroke:0.2px;">ESTADO</span>
<span class="t" style="left:1132.00px;top:260px;font-size:14.14px;color:#6b7280;letter-spacing:0.075px;-webkit-text-stroke:0.12px;">Cancelled</span>
<span class="t m" style="left:1021.30px;top:296px;font-size:12px;color:#6b7280;letter-spacing:-0.076px;-webkit-text-stroke:0.2px;">PRIORIDAD</span>
<span class="t" style="left:1132.00px;top:296px;font-size:14.14px;color:#6b7280;letter-spacing:0.131px;-webkit-text-stroke:0.12px;">Prioridad baja</span>
<span class="t m" style="left:1021.30px;top:332px;font-size:12px;color:#6b7280;letter-spacing:-0.136px;-webkit-text-stroke:0.2px;">CESIONARIO</span>
<button class="bx" style="left:1124px;top:334px;width:95px;height:26px;border:1px solid #e5e7eb;border-radius:13px"></button>
<span class="t m" style="left:1133.00px;top:332px;font-size:12px;color:#111827;letter-spacing:0.379px;-webkit-text-stroke:0.25px;">Asignar tarea</span>
<span class="t m" style="left:1021.30px;top:367px;font-size:12px;color:#6b7280;letter-spacing:-0.203px;-webkit-text-stroke:0.2px;">GRUPO</span>
<svg class="ic" style="left:1132px;top:374px;color:#4b5563;" width="16" height="16" viewBox="0 0 24 24" stroke-width="2"><path d="m21.730 18-8-14a2 2 0 0 0-3.480 0l-8 14A2 2 0 0 0 4 21h16a2 2 0 0 0 1.730-3"/><path d="M12 9v4"/><path d="M12 17h.01"/></svg>
<span class="t m" style="left:1156.00px;top:367px;font-size:14px;color:#1f2937;letter-spacing:0.184px;-webkit-text-stroke:0.25px;">Bugs &amp; polish</span>
<span class="t m" style="left:1021.30px;top:401px;font-size:12px;color:#6b7280;letter-spacing:-0.127px;-webkit-text-stroke:0.2px;">FECHA DE</span>
<span class="t m" style="left:1021.30px;top:417px;font-size:12px;color:#6b7280;letter-spacing:-0.011px;-webkit-text-stroke:0.2px;">VENCIMIENTO</span>
<svg class="ic" style="left:1132px;top:416px;color:#6b7280;" width="16" height="16" viewBox="0 0 24 24" stroke-width="2"><path d="M8 2v4"/><path d="M16 2v4"/><rect width="18" height="18" x="3" y="4" rx="2"/><path d="M3 10h18"/></svg>
<span class="t" style="left:1156.00px;top:409px;font-size:14.14px;color:#6b7280;letter-spacing:0.165px;-webkit-text-stroke:0.12px;">Select date</span>
<span class="t m" style="left:1021.30px;top:452px;font-size:12px;color:#6b7280;letter-spacing:-0.336px;-webkit-text-stroke:0.2px;">PRECIO</span>
<div class="bx" style="left:1124px;top:452px;width:172px;height:30px;border:1px solid #e5e7eb;border-radius:6px;background:#fff"></div>
<span class="t" style="left:1133.00px;top:452px;font-size:14.14px;color:#959ba8;letter-spacing:0.250px;-webkit-text-stroke:0.12px;">0.00</span>
<span class="t" style="left:1304.20px;top:452px;font-size:12px;color:#6b7280;letter-spacing:-0.248px;-webkit-text-stroke:0.12px;">USD</span>
<span class="t m" style="left:1021.30px;top:491px;font-size:12px;color:#6b7280;letter-spacing:-0.125px;-webkit-text-stroke:0.2px;">ETIQUETAS</span>
<svg class="ic" style="left:1132px;top:498px;color:#6b7280;" width="16" height="16" viewBox="0 0 24 24" stroke-width="2"><path d="M12.586 2.586A2 2 0 0 0 11.172 2H4a2 2 0 0 0-2 2v7.172a2 2 0 0 0 .586 1.414l8.704 8.704a2.426 2.426 0 0 0 3.420 0l6.580-6.580a2.426 2.426 0 0 0 0-3.420z"/><circle cx="7.5" cy="7.5" r=".5" fill="currentColor"/></svg>
<div class="bx" style="left:1164px;top:495px;width:63px;height:22px;border:1px solid #d1d5db;border-radius:11px"></div>
<span class="t m" style="left:1175.00px;top:491px;font-size:12px;color:#374151;letter-spacing:0.714px;-webkit-text-stroke:0.25px;">dev</span>
<svg class="ic" style="left:1202.5px;top:500.8px;color:#4b5563;" width="11" height="11" viewBox="0 0 24 24" stroke-width="1.6"><path d="M18 6 6 18"/><path d="m6 6 12 12"/></svg>
<span class="t m" style="left:1021.30px;top:539px;font-size:12px;color:#6b7280;letter-spacing:-0.122px;-webkit-text-stroke:0.2px;">DESCRIPCIÓN</span>
<div class="bx" style="left:1021px;top:574px;width:403px;height:203px;border:1px solid #e5e7eb;border-radius:8px;background:#fff;overflow:hidden"><div class="bx" style="left:0;top:0;width:401px;height:49px;background:#f9fafb;border-bottom:1px solid #e5e7eb"></div></div>
<svg class="ic" style="left:1038.1px;top:590px;stroke:url(#mg)" width="18" height="18" viewBox="0 0 24 24" stroke-width="2"><defs><linearGradient id="mg" x1="0" y1="1" x2="0" y2="20" gradientUnits="userSpaceOnUse"><stop offset="0" stop-color="#5570f5"/><stop offset="1" stop-color="#a98bf5"/></linearGradient></defs><path d="M12 2a3 3 0 0 0-3 3v7a3 3 0 0 0 6 0V5a3 3 0 0 0-3-3Z"/><path d="M19 10v2a7 7 0 0 1-14 0v-2"/></svg>
<div class="bx" style="left:1072px;top:587px;width:1px;height:24px;background:#e5e7eb"></div>
<svg class="ic" style="left:1088.8px;top:590px;color:#6b7280;" width="18" height="18" viewBox="0 0 24 24" stroke-width="2"><path d="M6 12h9a4 4 0 0 1 0 8H7a1 1 0 0 1-1-1V5a1 1 0 0 1 1-1h7a4 4 0 0 1 0 8"/></svg>
<svg class="ic" style="left:1127px;top:590px;color:#6b7280;" width="18" height="18" viewBox="0 0 24 24" stroke-width="2"><line x1="19" x2="10" y1="4" y2="4"/><line x1="14" x2="5" y1="20" y2="20"/><line x1="15" x2="9" y1="4" y2="20"/></svg>
<span class="t m" style="left:1165.60px;top:584px;font-size:12.36px;color:#6b7280;-webkit-text-stroke:0.4px;">A</span>
<span class="t m" style="left:1175.40px;top:585px;font-size:10px;color:#6b7280;-webkit-text-stroke:0.4px;">A</span>
<svg class="ic" style="left:1187.2px;top:591.8px;color:#6b7280;" width="14" height="14" viewBox="0 0 24 24" stroke-width="2"><path d="m6 9 6 6 6-6"/></svg>
<div class="bx" style="left:1217px;top:587px;width:1px;height:24px;background:#e5e7eb"></div>
<svg class="ic" style="left:1232px;top:590px;color:#6b7280;" width="16" height="18" viewBox="1232 590 16 18" stroke-width="1.5"><path d="M1235.750 594.700V603M1243 594.700V603M1235.750 598.800H1243"/></svg>
<svg class="ic" style="left:1248px;top:591.8px;color:#6b7280;" width="14" height="14" viewBox="0 0 24 24" stroke-width="2"><path d="m6 9 6 6 6-6"/></svg>
<svg class="ic" style="left:1281px;top:589px;color:#6b7280;" width="20" height="20" viewBox="1281 589 20 20" stroke-width="1.5"><path d="M1287.800 593.750H1298M1287.800 599H1298M1287.800 604.250H1298M1284.200 593.750h.01M1284.200 599h.01M1284.200 604.250h.01"/></svg>
<svg class="ic" style="left:1304px;top:591.8px;color:#6b7280;" width="14" height="14" viewBox="0 0 24 24" stroke-width="2"><path d="m6 9 6 6 6-6"/></svg>
<div class="bx" style="left:1334px;top:587px;width:1px;height:24px;background:#e5e7eb"></div>
<svg class="ic" style="left:1350.9px;top:589.8px;color:#6b7280;" width="18" height="18" viewBox="0 0 24 24" stroke-width="2"><path d="M10 13a5 5 0 0 0 7.540.540l3-3a5 5 0 0 0-7.070-7.070l-1.720 1.710"/><path d="M14 11a5 5 0 0 0-7.540-.540l-3 3a5 5 0 0 0 7.070 7.070l1.710-1.710"/></svg>
<svg class="ic" style="left:1389px;top:590px;color:#6b7280;" width="18" height="18" viewBox="0 0 24 24" stroke-width="2"><rect width="18" height="18" x="3" y="3" rx="2" ry="2"/><circle cx="9" cy="9" r="2"/><path d="m21 15-3.086-3.086a2 2 0 0 0-2.828 0L6 21"/></svg>
<p class="t" style="left:1038.00px;top:637px;font-size:16.16px;color:#6b7280;letter-spacing:0.052px;-webkit-text-stroke:0.12px;">Used only on legacy /about. Swap to the new</p>
<p class="t" style="left:1038.00px;top:661px;font-size:16.16px;color:#6b7280;letter-spacing:0.088px;-webkit-text-stroke:0.12px;">TestimonialCarousel then delete the old file.</p>
<svg class="ic" style="left:1022px;top:802px;color:#f06a6a;" width="14" height="14" viewBox="0 0 24 24" stroke-width="2"><path d="M3 6h18"/><path d="M19 6v14c0 1-1 2-2 2H7c-1 0-2-1-2-2V6"/><path d="M8 6V4c0-1 1-2 2-2h4c1 0 2 1 2 2v2"/></svg>
<span class="t m" style="left:1045.00px;top:794px;font-size:12px;color:#f06a6a;letter-spacing:-0.023px;-webkit-text-stroke:0.25px;">ELIMINAR TAREA</span>
<div class="bx" style="left:1021px;top:875px;width:403px;height:1px;background:#e5e7eb"></div>
<div class="bx" style="left:1021px;top:873px;width:108px;height:3px;background:#e5e7eb"></div>
<span class="t m" style="left:1033.00px;top:842px;font-size:14px;color:#111827;letter-spacing:0.420px;-webkit-text-stroke:0.38px;">Comentarios</span>
<span class="t m" style="left:1145.70px;top:843px;font-size:14px;color:#6b7280;letter-spacing:0.377px;-webkit-text-stroke:0.38px;">Adjuntos</span>
<span class="t m" style="left:1232.00px;top:843px;font-size:14px;color:#6b7280;letter-spacing:0.446px;-webkit-text-stroke:0.38px;">Actividades</span>
<span class="t" style="left:1021.00px;top:884px;font-size:14.14px;color:#6b7280;letter-spacing:0.121px;font-style:italic;-webkit-text-stroke:0.12px;">Aún no hay comentarios</span>
</section>
</main>
</body>
</html>
